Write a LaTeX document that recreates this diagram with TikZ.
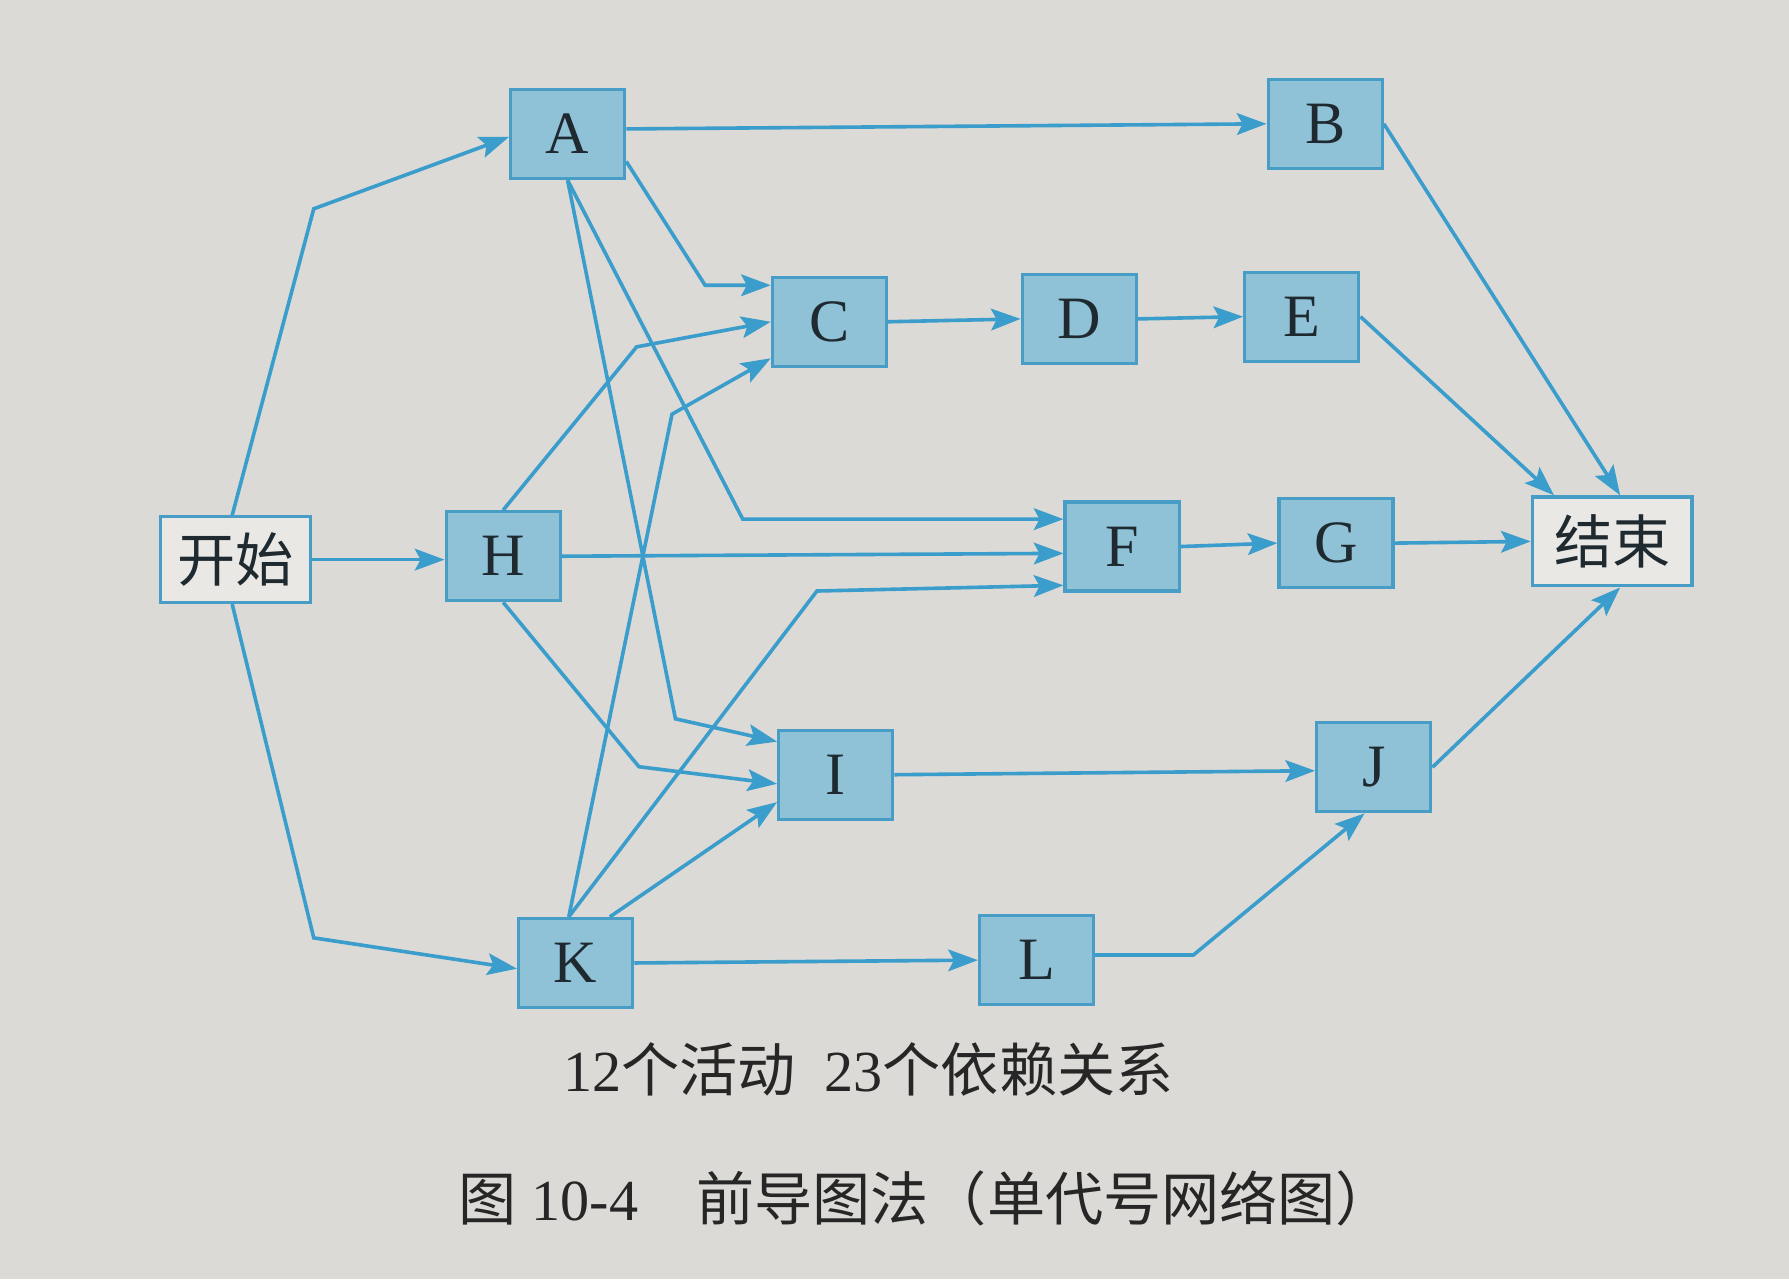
\documentclass[tikz,border=0pt]{standalone}
\usepackage{fontspec}
\setmainfont{Liberation Serif}
\newfontfamily\cjk{Noto Sans CJK SC}
\usetikzlibrary{arrows.meta}
\definecolor{paper}{HTML}{DCDAD6}
\definecolor{wire}{HTML}{3A9DCB}
\definecolor{boxfill}{HTML}{8FC1D7}
\definecolor{boxdraw}{HTML}{479DC5}
\definecolor{termfill}{HTML}{E9E8E5}
\definecolor{ink}{HTML}{1E2A30}

\begin{document}
\begin{tikzpicture}[
      x=0.1mm, y=-0.1mm,
      act/.style={draw=boxdraw, fill=boxfill, line width=0.8pt, inner sep=0pt,
                  minimum width=10mm, minimum height=7.8mm, text=ink,
                  font=\fontsize{15}{15}\selectfont},
      term/.style={act, fill=termfill, font=\cjk\fontsize{14.5}{15}\selectfont},
      caption/.style={text=black!85, font=\fontsize{14.5}{16}\selectfont},
      arrow/.style={-{Stealth[length=2.6mm, width=1.9mm, inset=0.5mm]}, wire, line width=0.9pt}]
    \path[use as bounding box, fill=paper] (0,0) rectangle (1568,1121);

    \node[term, minimum width=13.1mm, minimum height=7.5mm] (start)  at (206.5,490.5) {开始};
    \node[act] (A) at (497.5,117.5) {A};
    \node[act] (B) at (1161.5,108.5) {B};
    \node[act] (C) at (727,282) {C};
    \node[act] (D) at (946,279.5) {D};
    \node[act] (E) at (1141,277.5) {E};
    \node[act] (H) at (441,487.5) {H};
    \node[act] (F) at (983.5,479) {F};
    \node[act] (G) at (1171,476) {G};
    \node[act] (I) at (732.5,679) {I};
    \node[act] (J) at (1204,672.5) {J};
    \node[act] (K) at (504.5,844) {K};
    \node[act] (L) at (908.5,841.5) {L};
    \node[term, minimum width=14mm] (finish) at (1413,474.5) {结束};

    \draw[arrow] ([xshift=-0.3mm]start.north) -- (275,183) -- ([yshift=-0.25mm]A.west);
    \draw[arrow] (start.east) -- (start.east -| H.west);
    \draw[arrow] ([xshift=-0.3mm]start.south) -- (275,822) -- ([yshift=-0.5mm]K.west);
    \draw[arrow] ([yshift=0.45mm]A.east) -- (B.west);
    \draw[arrow] ([yshift=-2.4mm]A.east) -- (618,250) -- ([yshift=3.2mm]C.west);
    \draw[arrow] (A.south) -- (651,455) -- ([yshift=2.4mm]F.west);
    \draw[arrow] (A.south) -- (592,630) -- ([yshift=2.9mm]I.west);
    \draw[arrow] (H.north) -- (558,304) -- (C.west);
    \draw[arrow] (H.east) -- ([yshift=-0.6mm]F.west);
    \draw[arrow] (H.south) -- (560,672) -- ([yshift=-0.8mm]I.west);
    \draw[arrow] ([xshift=-0.6mm]K.north) -- (589,363) -- ([yshift=-3.2mm]C.west);
    \draw[arrow] ([xshift=-0.6mm]K.north) -- (716,518) -- ([yshift=-3.4mm]F.west);
    \draw[arrow] ([xshift=3mm]K.north) -- ([yshift=-2.4mm]I.west);
    \draw[arrow] (K.east) -- (L.west);
    \draw[arrow] (C.east) -- (D.west);
    \draw[arrow] (D.east) -- (E.west);
    \draw[arrow] (F.east) -- (G.west);
    \draw[arrow] (I.east) -- ([yshift=-0.3mm]J.west);
    \draw[arrow] ([yshift=0.45mm]L.east) -- (1046,837) -- ([xshift=-0.8mm]J.south);
    \draw[arrow] (B.east) -- ([xshift=0.7mm]finish.north);
    \draw[arrow] (E.east) -- ([xshift=-5.1mm]finish.north);
    \draw[arrow] (G.east) -- (finish.west);
    \draw[arrow] (J.east) -- ([xshift=0.7mm]finish.south);

    \node[caption] (note)  at (761,937)  {12{\cjk 个活动}\enspace 23{\cjk 个依赖关系}};
    \node[caption] (title) at (812,1050) {{\cjk 图} 10-4{\cjk 　前导图法（单代号网络图）}};
  \end{tikzpicture}
\end{document}
